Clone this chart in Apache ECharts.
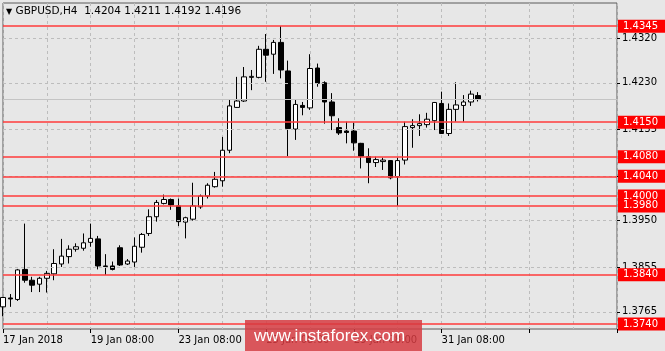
<!DOCTYPE html>
<html>
<head>
<meta charset="utf-8">
<script src="https://cdn.jsdelivr.net/npm/echarts@6/dist/echarts.min.js"></script>
<style>
html,body{margin:0;padding:0;background:#e7e7e7;}
#c{width:665px;height:351px;}
</style>
</head>
<body>
<div id="c"></div>
<script>
// H4 bar times (66 real bars + empty future slots)
const categories = [
 '17 Jan 08:00','17 Jan 12:00','17 Jan 16:00','17 Jan 20:00',
 '18 Jan 00:00','18 Jan 04:00','18 Jan 08:00','18 Jan 12:00','18 Jan 16:00','18 Jan 20:00',
 '19 Jan 00:00','19 Jan 04:00','19 Jan 08:00','19 Jan 12:00','19 Jan 16:00','19 Jan 20:00',
 '22 Jan 00:00','22 Jan 04:00','22 Jan 08:00','22 Jan 12:00','22 Jan 16:00','22 Jan 20:00',
 '23 Jan 00:00','23 Jan 04:00','23 Jan 08:00','23 Jan 12:00','23 Jan 16:00','23 Jan 20:00',
 '24 Jan 00:00','24 Jan 04:00','24 Jan 08:00','24 Jan 12:00','24 Jan 16:00','24 Jan 20:00',
 '25 Jan 00:00','25 Jan 04:00','25 Jan 08:00','25 Jan 12:00','25 Jan 16:00','25 Jan 20:00',
 '26 Jan 00:00','26 Jan 04:00','26 Jan 08:00','26 Jan 12:00','26 Jan 16:00','26 Jan 20:00',
 '29 Jan 00:00','29 Jan 04:00','29 Jan 08:00','29 Jan 12:00','29 Jan 16:00','29 Jan 20:00',
 '30 Jan 00:00','30 Jan 04:00','30 Jan 08:00','30 Jan 12:00','30 Jan 16:00','30 Jan 20:00',
 '31 Jan 00:00','31 Jan 04:00','31 Jan 08:00','31 Jan 12:00','31 Jan 16:00','31 Jan 20:00',
 '01 Feb 00:00','01 Feb 04:00',
 '01 Feb 08:00','01 Feb 12:00','01 Feb 16:00','01 Feb 20:00',
 '02 Feb 00:00','02 Feb 04:00','02 Feb 08:00','02 Feb 12:00','02 Feb 16:00','02 Feb 20:00',
 '05 Feb 00:00','05 Feb 04:00','05 Feb 08:00','05 Feb 12:00','05 Feb 16:00','05 Feb 20:00',
 '06 Feb 00:00','06 Feb 04:00','06 Feb 08:00'
];

const opens = [1.3775,1.3793,1.3790,1.3851,1.3829,1.3821,1.3833,1.3842,1.3862,1.3877,
 1.3892,1.3894,1.3906,1.3913,1.3858,1.3858,1.3895,1.3862,1.3866,1.3896,
 1.3924,1.3958,1.3985,1.3993,1.3980,1.3947,1.3953,1.3978,1.4000,1.4019,
 1.4031,1.4093,1.4180,1.4193,1.4241,1.4241,1.4298,1.4288,1.4312,1.4254,
 1.4136,1.4184,1.4179,1.4260,1.4230,1.4191,1.4139,1.4132,1.4132,1.4107,
 1.4080,1.4068,1.4070,1.4072,1.4039,1.4073,1.4139,1.4143,1.4145,1.4153,
 1.4188,1.4127,1.4176,1.4184,1.4191,1.4204];
const closes = [1.3794,1.3791,1.3850,1.3829,1.3819,1.3833,1.3843,1.3863,1.3878,1.3892,
 1.3897,1.3905,1.3914,1.3858,1.3857,1.3851,1.3860,1.3868,1.3898,1.3922,
 1.3958,1.3987,1.3993,1.3982,1.3948,1.3956,1.3980,1.4000,1.4022,1.4034,
 1.4093,1.4183,1.4193,1.4242,1.4243,1.4298,1.4286,1.4312,1.4256,1.4137,
 1.4186,1.4180,1.4259,1.4229,1.4191,1.4163,1.4128,1.4129,1.4108,1.4081,
 1.4068,1.4074,1.4073,1.4037,1.4072,1.4141,1.4143,1.4147,1.4156,1.4190,
 1.4127,1.4176,1.4185,1.4191,1.4207,1.4196];
const lows = [1.3756,1.3775,1.3787,1.3824,1.3805,1.3805,1.3804,1.3829,1.3856,1.3863,
 1.3887,1.3889,1.3897,1.3851,1.3840,1.3849,1.3858,1.3860,1.3856,1.3885,
 1.3919,1.3948,1.3983,1.3972,1.3939,1.3914,1.3950,1.3974,1.3995,1.4017,
 1.4019,1.4087,1.4179,1.4191,1.4215,1.4239,1.4232,1.4248,1.4239,1.4081,
 1.4114,1.4164,1.4175,1.4222,1.4147,1.4134,1.4124,1.4107,1.4092,1.4056,
 1.4026,1.4059,1.4053,1.4034,1.3980,1.4064,1.4098,1.4122,1.4139,1.4134,
 1.4126,1.4122,1.4151,1.4151,1.4183,1.4192];
const highs = [1.3795,1.3801,1.3852,1.3944,1.3836,1.3836,1.3848,1.3892,1.3913,1.3900,
 1.3904,1.3924,1.3944,1.3919,1.3882,1.3867,1.3900,1.3872,1.3916,1.3925,
 1.3973,1.3992,1.4003,1.3995,1.3995,1.3958,1.4027,1.4003,1.4026,1.4049,
 1.4120,1.4196,1.4242,1.4262,1.4256,1.4305,1.4329,1.4317,1.4345,1.4275,
 1.4195,1.4191,1.4288,1.4269,1.4233,1.4209,1.4158,1.4151,1.4149,1.4108,
 1.4097,1.4080,1.4078,1.4073,1.4078,1.4151,1.4156,1.4166,1.4169,1.4191,
 1.4212,1.4188,1.4231,1.4205,1.4214,1.4211];

const xLabels = ['17 Jan 2018','19 Jan 08:00','23 Jan 08:00','25 Jan 08:00','29 Jan 08:00','31 Jan 08:00'];
const yTicks = [1.3765, 1.3855, 1.3950, 1.4040, 1.4135, 1.4230, 1.4320];
const levels = [1.4345, 1.4150, 1.4080, 1.4040, 1.4000, 1.3980, 1.3840, 1.3740];
const symbolName = 'GBPUSD,H4';
const currentPrice = 1.4196;

const FONT = 'DejaVu Sans';
const candleData = opens.map((o, i) => [o, closes[i], lows[i], highs[i]]);
const last = candleData.length - 1;
const header = symbolName + '  ' + [opens[last], highs[last], lows[last], closes[last]].map(v => v.toFixed(4)).join(' ');

const chart = echarts.init(document.getElementById('c'), null, {renderer: 'canvas'});
chart.setOption({
  animation: false,
  backgroundColor: '#e7e7e7',
  title: {
    text: '{a|▼} ' + header,
    left: 6, top: 6, padding: 0,
    textStyle: {
      fontFamily: FONT, fontSize: 10.5, fontWeight: 'normal', color: '#000',
      rich: {a: {fontSize: 8, color: '#000', fontFamily: FONT}}
    }
  },
  grid: {left: 3, right: 48, top: 3, bottom: 22, show: true, borderColor: '#5a5a5a', borderWidth: 1, backgroundColor: 'transparent'},
  xAxis: {
    type: 'category',
    data: categories,
    boundaryGap: false,
    axisLine: {show: false},
    axisTick: {show: true, interval: 11, length: 4, lineStyle: {color: '#000'}},
    axisLabel: {
      interval: 11, margin: 6, align: 'left', padding: [0, 0, 0, 0],
      fontFamily: FONT, fontSize: 10, color: '#000',
      formatter: (v, idx) => xLabels[idx / 12] || ''
    },
    splitLine: {show: true, interval: 5, lineStyle: {color: '#bdbdbd', type: [3, 3], width: 1}}
  },
  yAxis: {
    type: 'value',
    position: 'right',
    min: 1.3730, max: 1.4392,
    scale: true,
    axisLine: {show: false},
    splitLine: {show: false},
    axisTick: {show: true, length: 3, customValues: yTicks, lineStyle: {color: '#000'}},
    axisLabel: {
      customValues: yTicks, margin: 5, align: 'left',
      fontFamily: FONT, fontSize: 10, color: '#000',
      formatter: v => v.toFixed(4)
    }
  },
  graphic: [
    {type: 'rect', z: 100, shape: {x: 245, y: 320, width: 177, height: 31}, style: {fill: 'rgba(214,58,64,0.84)'}},
    {type: 'text', z: 101, x: 254, y: 336, style: {text: 'www.instaforex.com', fill: '#ffffff', fontSize: 17, fontFamily: 'Liberation Sans', verticalAlign: 'middle', align: 'left'}}
  ],
  series: [
    {
      type: 'line', data: [], z: 1, silent: true,
      markLine: {
        silent: true, symbol: ['none', 'none'], animation: false, precision: 4,
        label: {show: false},
        data: yTicks.map(v => ({yAxis: v, lineStyle: {color: '#bdbdbd', type: [3, 3], width: 1}}))
          .concat([{yAxis: currentPrice, lineStyle: {color: '#c4c4c4', type: 'solid', width: 1}}])
      }
    },
    {
      type: 'candlestick', z: 3,
      data: candleData,
      barWidth: 5,
      itemStyle: {color: '#ffffff', color0: '#000000', borderColor: '#000000', borderColor0: '#000000', borderWidth: 1},
      emphasis: {disabled: true}
    },
    {
      type: 'line', data: [], z: 2, silent: true,
      markLine: {
        silent: true, symbol: ['none', 'none'], animation: false, precision: 4,
        label: {
          show: true, position: 'end', distance: 1,
          formatter: p => p.value.toFixed(4),
          color: '#ffffff', backgroundColor: '#ff0000',
          fontFamily: FONT, fontSize: 10, lineHeight: 11, padding: [1, 8, 1, 5]
        },
        lineStyle: {color: '#ff3b3b', width: 1.5, type: 'solid'},
        data: levels.map(v => ({yAxis: v}))
      }
    },
    {
      type: 'line', data: [], z: 4, silent: true,
      markLine: {
        silent: true, symbol: ['none', 'none'], animation: false, precision: 4,
        lineStyle: {opacity: 0},
        label: {
          show: true, position: 'end', distance: 1,
          formatter: p => p.value.toFixed(4),
          color: '#ffffff', backgroundColor: '#000000',
          fontFamily: FONT, fontSize: 10, lineHeight: 11, padding: [1, 8, 1, 5]
        },
        data: [{yAxis: currentPrice}]
      }
    }
  ]
});
</script>
</body>
</html>
